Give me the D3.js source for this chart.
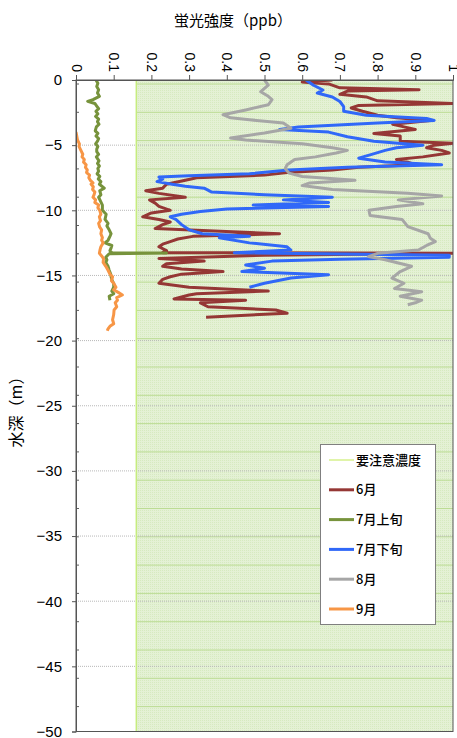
<!DOCTYPE html>
<html lang="ja">
<head>
<meta charset="UTF-8">
<title>蛍光強度</title>
<script src="https://d3js.org/d3.v7.min.js"></script>
<style>
  body { margin: 0; background: #fff; }
  text { font-family: "Liberation Sans", Arial, "Noto Sans CJK JP", sans-serif; fill: #000; }
  .jp { font-family: "Noto Sans CJK JP", sans-serif; }
</style>
</head>
<body>
<div id="chart"></div>
<script>
// x ticks (蛍光強度 ppb) and y ticks (水深 m)
const xTicks = [0, 0.1, 0.2, 0.3, 0.4, 0.5, 0.6, 0.7, 0.8, 0.9, 1];
const yTicks = [0, -5, -10, -15, -20, -25, -30, -35, -40, -45, -50];
const cautionLevel = 0.16; // 要注意濃度

// [水深, 蛍光強度]
const june = [
  [0,0.68],[0.15,0.6],[0.3,0.67],[0.6,0.7],[0.75,0.91],[0.85,0.72],[1.1,0.7],[1.3,0.77],[1.6,0.8],
  [1.8,1.0],[1.95,0.75],[2.15,0.73],[2.4,0.76],[2.7,0.8],[2.9,0.85],[3.1,0.94],[3.4,0.84],[3.6,0.87],
  [3.8,0.9],[4.1,0.79],[4.3,0.86],[4.7,0.86],[4.85,1.0],[5.0,0.95],[5.2,0.93],[5.4,0.97],[5.6,0.99],
  [5.9,0.92],[6.1,0.85],[6.3,0.88],[6.5,0.9],[6.7,0.75],[6.9,0.68],[7.1,0.56],[7.3,0.5],[7.5,0.32],
  [7.7,0.29],[8.0,0.24],[8.3,0.23],[8.5,0.185],[8.7,0.22],[9.0,0.29],[9.2,0.195],[9.45,0.21],[9.7,0.22],
  [10.0,0.25],[10.2,0.2],[10.5,0.177],[10.7,0.22],[10.9,0.25],[11.1,0.23],[11.4,0.21],[11.8,0.54],
  [12.0,0.31],[12.2,0.27],[12.4,0.25],[12.6,0.23],[12.8,0.22],[13.1,0.24],[13.25,0.23],[13.3,1.0],
  [13.45,0.5],[13.7,0.22],[13.9,0.34],[14.1,0.24],[14.3,0.23],[14.5,0.28],[14.7,0.39],[14.9,0.28],
  [15.1,0.25],[15.3,0.23],[15.6,0.22],[15.9,0.3],[16.2,0.51],[16.4,0.32],[16.5,0.3],[16.8,0.26],
  [16.9,0.45],[17.1,0.33],[17.4,0.35],[17.65,0.53],[17.9,0.56],[18.2,0.345]
];
const julyEarly = [
  [0,0.053],[0.25,0.058],[0.5,0.055],[0.75,0.06],[1.0,0.057],[1.25,0.062],[1.5,0.045],[1.64,0.031],
  [1.8,0.05],[2.0,0.055],[2.2,0.06],[2.4,0.053],[2.6,0.058],[2.8,0.052],[3.0,0.06],[3.2,0.057],
  [3.4,0.061],[3.6,0.054],[3.9,0.051],[4.1,0.058],[4.3,0.053],[4.5,0.06],[4.7,0.057],[4.9,0.052],
  [5.1,0.058],[5.3,0.055],[5.5,0.055],[5.7,0.06],[5.9,0.054],[6.2,0.061],[6.4,0.057],[6.6,0.062],
  [6.8,0.058],[7.0,0.06],[7.2,0.056],[7.4,0.063],[7.6,0.059],[7.8,0.066],[8.0,0.062],[8.3,0.075],
  [8.5,0.063],[8.8,0.066],[9.0,0.06],[9.3,0.065],[9.6,0.07],[10.0,0.07],[10.3,0.08],[10.7,0.077],
  [11.0,0.085],[11.2,0.082],[11.5,0.088],[11.8,0.093],[12.0,0.09],[12.3,0.085],[12.5,0.077],
  [12.7,0.095],[12.9,0.093],[13.1,0.09],[13.25,0.095],[13.28,0.24],[13.33,0.088],[13.6,0.079],
  [13.8,0.082],[14.0,0.079],[14.3,0.085],[14.6,0.088],[14.9,0.092],[15.1,0.093],[15.4,0.096],
  [15.6,0.1],[15.9,0.1],[16.2,0.095],[16.4,0.1],[16.6,0.088],[16.9,0.09]
];
const julyLate = [
  [0,0.61],[0.4,0.63],[0.77,0.655],[1.0,0.64],[1.3,0.68],[1.65,0.7],[2.05,0.71],[2.4,0.71],[2.7,0.77],
  [2.95,0.93],[3.1,0.95],[3.3,0.8],[3.6,0.59],[3.8,0.54],[4.0,0.67],[4.35,0.72],[4.7,0.79],[5.0,0.92],
  [5.2,0.85],[5.4,0.82],[5.75,0.78],[6.0,0.75],[6.3,0.82],[6.5,0.97],[6.7,0.72],[6.9,0.565],[7.2,0.46],
  [7.35,0.3],[7.45,0.22],[7.6,0.23],[7.8,0.215],[8.0,0.255],[8.15,0.29],[8.3,0.34],[8.6,0.36],[8.8,0.5],
  [9.0,0.68],[9.2,0.55],[9.4,0.67],[9.6,0.47],[9.7,0.67],[9.9,0.4],[10.1,0.33],[10.3,0.28],[10.5,0.25],
  [10.7,0.265],[11.1,0.28],[11.5,0.3],[11.8,0.335],[12.0,0.46],[12.1,0.38],[12.5,0.46],[12.8,0.56],
  [13.05,0.57],[13.25,0.42],[13.45,0.99],[13.6,0.99],[13.75,0.7],[13.9,0.52],[14.2,0.45],[14.45,0.5],
  [14.7,0.44],[14.95,0.67],[15.2,0.57],[15.6,0.5],[15.9,0.46]
];
const august = [
  [0,0.5],[0.4,0.51],[0.9,0.49],[1.25,0.51],[1.5,0.52],[1.9,0.51],[2.3,0.45],[2.66,0.39],[2.9,0.41],
  [3.05,0.46],[3.3,0.55],[3.7,0.57],[4.07,0.5],[4.45,0.41],[4.6,0.45],[4.9,0.6],[5.2,0.68],[5.4,0.72],
  [5.6,0.69],[5.9,0.635],[6.1,0.58],[6.5,0.56],[6.8,0.555],[7.15,0.565],[7.4,0.6],[7.7,0.74],[7.9,0.62],
  [8.1,0.6],[8.4,0.68],[8.7,0.88],[8.9,0.97],[9.2,0.855],[9.5,0.92],[9.7,0.85],[10.0,0.777],[10.4,0.78],
  [10.7,0.865],[11.25,0.88],[11.8,0.934],[12.15,0.94],[12.4,0.953],[12.7,0.93],[13.05,0.908],[13.3,0.8],
  [13.55,0.776],[13.8,0.82],[14.3,0.89],[14.7,0.86],[15.2,0.838],[15.6,0.87],[16.0,0.845],[16.25,0.917],
  [16.6,0.86],[16.9,0.917],[17.1,0.9],[17.25,0.88]
];
const september = [
  [4.0,0.0],[4.3,0.002],[4.6,0.004],[4.9,0.009],[5.1,0.008],[5.4,0.013],[5.7,0.018],[5.9,0.016],
  [6.1,0.022],[6.3,0.02],[6.5,0.027],[6.7,0.025],[6.9,0.03],[7.1,0.028],[7.3,0.036],[7.5,0.034],
  [7.7,0.038],[7.9,0.045],[8.0,0.04],[8.2,0.046],[8.4,0.044],[8.6,0.05],[8.8,0.048],[9.0,0.045],
  [9.2,0.052],[9.4,0.05],[9.6,0.06],[9.8,0.058],[10.0,0.063],[10.3,0.066],[10.5,0.062],[10.8,0.065],
  [11.0,0.06],[11.3,0.063],[11.5,0.068],[11.8,0.066],[12.1,0.07],[12.3,0.068],[12.5,0.072],[12.8,0.066],
  [13.0,0.064],[13.3,0.062],[13.5,0.068],[13.7,0.073],[14.0,0.072],[14.3,0.079],[14.6,0.085],[14.9,0.09],
  [15.1,0.097],[15.4,0.094],[15.6,0.1],[15.9,0.106],[16.1,0.1],[16.3,0.112],[16.5,0.123],[16.7,0.108],
  [16.9,0.11],[17.1,0.104],[17.4,0.108],[17.65,0.101],[18.0,0.1],[18.4,0.097],[18.7,0.1],[18.9,0.09],
  [19.1,0.085],[19.25,0.083]
];

const seriesNames = ["6月", "7月上旬", "7月下旬", "8月", "9月"];
const seriesData = [june, julyEarly, julyLate, august, september];
const seriesColors = ["#953735", "#77933c", "#3068f8", "#a6a6a6", "#f79646"];

const W = 457, H = 738;
const plot = {left: 76, right: 453, top: 80, bottom: 731.5};

const svg = d3.select("#chart").append("svg")
  .attr("width", W).attr("height", H);

const x = d3.scaleLinear().domain([0, 1]).range([plot.left, plot.right]);
const y = d3.scaleLinear().domain([-50, 0]).range([plot.bottom, plot.top]);

const defs = svg.append("defs");
const pat = defs.append("pattern").attr("id", "fine")
  .attr("width", 2).attr("height", 2).attr("patternUnits", "userSpaceOnUse");
pat.append("rect").attr("width", 2).attr("height", 2).attr("fill", "#e4f1d5");
pat.append("rect").attr("width", 1).attr("height", 1).attr("fill", "#d6eac0");

defs.append("clipPath").attr("id", "clip").append("rect")
  .attr("x", plot.left).attr("y", plot.top)
  .attr("width", plot.right - plot.left).attr("height", plot.bottom - plot.top);

// 要注意濃度 area
svg.append("rect")
  .attr("x", x(cautionLevel)).attr("y", y(0))
  .attr("width", x(1) - x(cautionLevel)).attr("height", y(-50) - y(0))
  .attr("fill", "url(#fine)");

// green bands inside the area
const bandStep = 28.3;
for (let py = 84; py < plot.bottom - 10; py += bandStep) {
  svg.append("line")
    .attr("x1", x(cautionLevel)).attr("x2", x(1))
    .attr("y1", py).attr("y2", py)
    .attr("stroke", "#bcdc94").attr("stroke-width", 1);
  svg.append("line")
    .attr("x1", plot.left).attr("x2", plot.left + 3)
    .attr("y1", py).attr("y2", py)
    .attr("stroke", "#606060").attr("stroke-width", 1);
}

// horizontal dotted gridlines
svg.append("g").selectAll("line")
  .data(yTicks.filter(d => d !== 0 && d !== -50))
  .enter().append("line")
  .attr("x1", plot.left).attr("x2", plot.right)
  .attr("y1", d => y(d)).attr("y2", d => y(d))
  .attr("stroke", "#b8b8b8").attr("stroke-width", 1)
  .attr("stroke-dasharray", "1,1");

svg.append("line")
  .attr("x1", x(cautionLevel)).attr("x2", x(cautionLevel))
  .attr("y1", y(0)).attr("y2", y(-50))
  .attr("stroke", "#c6ec7e").attr("stroke-width", 1.5);

// series
const line = d3.line().x(d => x(d[1])).y(d => y(-d[0]));
const lines = svg.append("g").attr("clip-path", "url(#clip)");
seriesData.forEach((data, i) => {
  lines.append("path")
    .datum(data)
    .attr("d", line)
    .attr("fill", "none")
    .attr("stroke", seriesColors[i])
    .attr("stroke-width", 3)
    .attr("stroke-linejoin", "round");
});

// frame
svg.append("rect")
  .attr("x", plot.left).attr("y", plot.top)
  .attr("width", plot.right - plot.left).attr("height", plot.bottom - plot.top)
  .attr("fill", "none").attr("stroke", "#555").attr("stroke-width", 1);

// top axis
const xAxis = svg.append("g")
  .attr("transform", `translate(0,${plot.top})`)
  .call(d3.axisTop(x).tickValues(xTicks).tickSize(5).tickFormat(d3.format("~g")));
xAxis.select(".domain").attr("stroke", "#555");
xAxis.selectAll(".tick line").attr("stroke", "#555");
xAxis.selectAll(".tick text")
  .attr("transform", "translate(0,-8) rotate(90)")
  .attr("x", 0).attr("y", 0).attr("dy", "0.35em")
  .attr("text-anchor", "end")
  .style("font-size", "14px");

// left axis
const yAxis = svg.append("g")
  .attr("transform", `translate(${plot.left},0)`)
  .call(d3.axisLeft(y).tickValues(yTicks).tickSize(4).tickPadding(10)
    .tickFormat(d => d3.format("~g")(d).replace("-", "−")));
yAxis.select(".domain").attr("stroke", "#555");
yAxis.selectAll(".tick line").attr("stroke", "#555");
yAxis.selectAll(".tick text").style("font-size", "15px");

// titles
svg.append("text").attr("class", "jp")
  .attr("x", 233).attr("y", 26)
  .attr("text-anchor", "middle")
  .style("font-size", "15px")
  .text("蛍光強度（ppb）");

svg.append("text").attr("class", "jp")
  .attr("transform", "translate(22,408) rotate(-90)")
  .attr("text-anchor", "middle")
  .style("font-size", "16px")
  .text("水深（m）");

// legend
const legend = svg.append("g");
legend.append("rect")
  .attr("x", 320.5).attr("y", 444.5).attr("width", 115).attr("height", 180)
  .attr("fill", "#fff").attr("stroke", "#7f7f7f").attr("stroke-width", 1);
const legendNames = ["要注意濃度"].concat(seriesNames);
const legendColors = ["#d6f08c"].concat(seriesColors);
legendNames.forEach((name, i) => {
  const ly = 460 + i * 29.8;
  legend.append("line")
    .attr("x1", 329).attr("x2", 354).attr("y1", ly).attr("y2", ly)
    .attr("stroke", legendColors[i]).attr("stroke-width", i === 0 ? 1.5 : 3);
  legend.append("text").attr("class", "jp")
    .attr("x", 356).attr("y", ly).attr("dy", "0.35em")
    .style("font-size", "13px")
    .style("font-weight", 500)
    .text(name);
});
</script>
</body>
</html>
